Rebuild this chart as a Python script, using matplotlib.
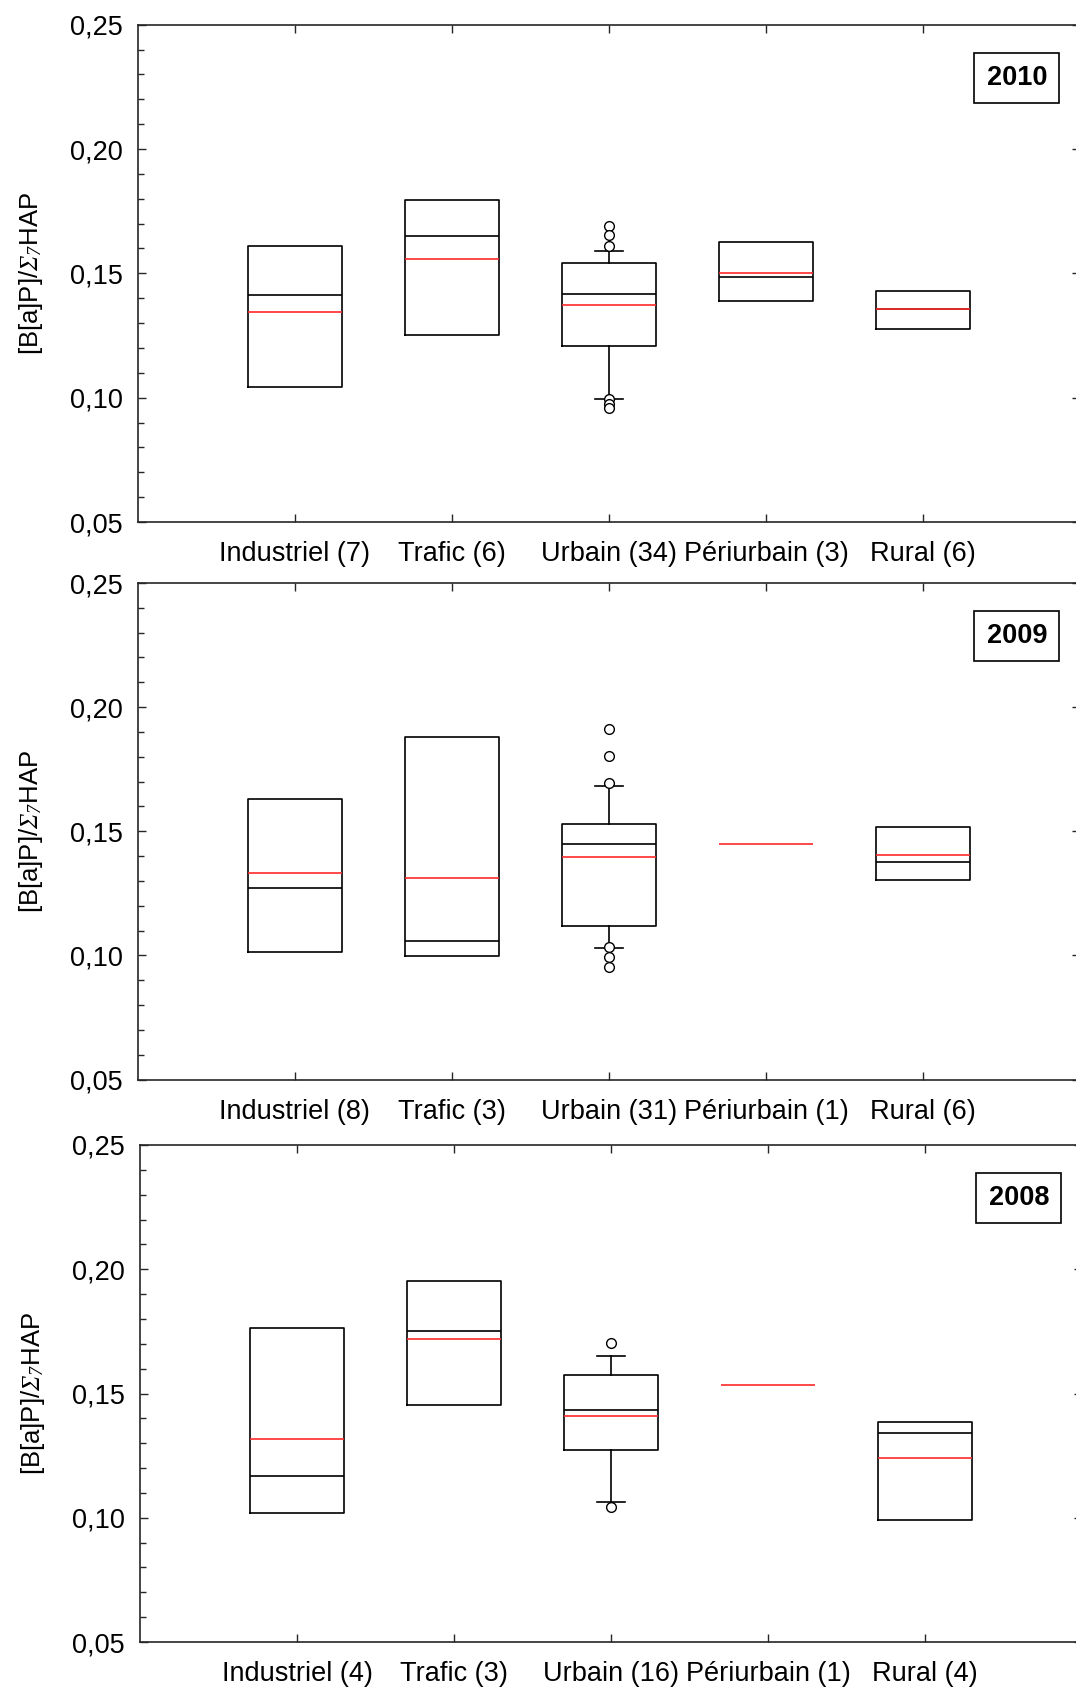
import matplotlib
matplotlib.use("Agg")
import matplotlib.pyplot as plt
from matplotlib.ticker import MultipleLocator, FuncFormatter

plt.rcParams["font.family"] = ["Liberation Sans", "DejaVu Sans"]
# Sigma and its subscript are set in a serif italic
plt.rcParams["mathtext.fontset"] = "custom"
plt.rcParams["mathtext.rm"] = "Liberation Serif:italic"
plt.rcParams["mathtext.it"] = "Liberation Serif:italic"

# ---- data -------------------------------------------------------------
categories = ["Industriel", "Trafic", "Urbain", "Périurbain", "Rural"]

counts_2010 = [7, 6, 34, 3, 6]
q1_2010 = [0.1043, 0.1253, 0.1206, 0.1387, 0.1275]
med_2010 = [0.1411, 0.1650, 0.1418, 0.1486, 0.1358]
mean_2010 = [0.1346, 0.1558, 0.1371, 0.1500, 0.1358]
q3_2010 = [0.1610, 0.1795, 0.1541, 0.1628, 0.1428]
whislo_2010 = [None, None, 0.0996, None, None]
whishi_2010 = [None, None, 0.1588, None, None]
fliers_2010 = [[], [], [0.1690, 0.1653, 0.1612, 0.0993, 0.0974, 0.0957], [], []]

counts_2009 = [8, 3, 31, 1, 6]
q1_2009 = [0.1013, 0.0999, 0.1117, 0.1448, 0.1305]
med_2009 = [0.1271, 0.1057, 0.1448, 0.1448, 0.1377]
mean_2009 = [0.1330, 0.1310, 0.1395, 0.1448, 0.1405]
q3_2009 = [0.1629, 0.1878, 0.1530, 0.1448, 0.1518]
whislo_2009 = [None, None, 0.1031, None, None]
whishi_2009 = [None, None, 0.1683, None, None]
fliers_2009 = [[], [], [0.1911, 0.1803, 0.1695, 0.1033, 0.0993, 0.0952], [], []]

counts_2008 = [4, 3, 16, 1, 4]
q1_2008 = [0.1018, 0.1452, 0.1274, 0.1535, 0.0992]
med_2008 = [0.1169, 0.1751, 0.1435, 0.1535, 0.1343]
mean_2008 = [0.1317, 0.1718, 0.1411, 0.1535, 0.1239]
q3_2008 = [0.1762, 0.1953, 0.1574, 0.1535, 0.1386]
whislo_2008 = [None, None, 0.1062, None, None]
whishi_2008 = [None, None, 0.1652, None, None]
fliers_2008 = [[], [], [0.1703, 0.1045], [], []]

years = ["2010", "2009", "2008"]
ylabel = r"[B[a]P]/$\Sigma_{7}$HAP"

# ---- figure -----------------------------------------------------------
W, H = 1076, 1688
fig = plt.figure(figsize=(W / 100, H / 100), dpi=100)

# axes rectangles in pixels: left, top, right, bottom
rects = [(137.7, 24.7, 1080, 522.0),
         (137.7, 583.0, 1080, 1079.5),
         (140.0, 1145.0, 1082, 1642.0)]

panels = [
    (counts_2010, q1_2010, med_2010, mean_2010, q3_2010, whislo_2010, whishi_2010, fliers_2010),
    (counts_2009, q1_2009, med_2009, mean_2009, q3_2009, whislo_2009, whishi_2009, fliers_2009),
    (counts_2008, q1_2008, med_2008, mean_2008, q3_2008, whislo_2008, whishi_2008, fliers_2008),
]

SPINE = "#262626"
LW = 1.2

for (l, t, r, b), year, (cnt, q1, med, mean, q3, wlo, whi, fl) in zip(rects, years, panels):
    ax = fig.add_axes([l / W, 1 - b / H, (r - l) / W, (b - t) / H])

    stats = []
    for i in range(len(categories)):
        stats.append(dict(
            q1=q1[i], med=med[i], mean=mean[i], q3=q3[i],
            whislo=wlo[i] if wlo[i] is not None else q1[i],
            whishi=whi[i] if whi[i] is not None else q3[i],
            fliers=fl[i],
        ))
    positions = list(range(1, len(categories) + 1))
    art = ax.bxp(stats, positions=positions, widths=0.6, capwidths=0.18,
                 showmeans=True, meanline=True,
                 boxprops=dict(color="black", linewidth=LW),
                 medianprops=dict(color="black", linewidth=LW),
                 whiskerprops=dict(color="black", linewidth=LW),
                 capprops=dict(color="black", linewidth=LW),
                 meanprops=dict(color="#ff2a2a", linewidth=LW, linestyle="-"),
                 flierprops=dict(marker="o", markerfacecolor="white",
                                 markeredgecolor="black", markersize=7,
                                 markeredgewidth=1.0, linestyle="none"))

    for i in range(len(categories)):
        if wlo[i] is None:
            for k in (2 * i, 2 * i + 1):
                art["whiskers"][k].set_visible(False)
                art["caps"][k].set_visible(False)
        if cnt[i] == 1:
            art["boxes"][i].set_visible(False)
            art["medians"][i].set_visible(False)

    ax.set_xlim(0, 6)
    ax.set_ylim(0.05, 0.25)
    ax.set_xticks(positions)
    ax.set_xticklabels([f"{c} ({n})" for c, n in zip(categories, cnt)])
    ax.yaxis.set_major_locator(MultipleLocator(0.05))
    ax.yaxis.set_minor_locator(MultipleLocator(0.01))
    ax.yaxis.set_major_formatter(FuncFormatter(lambda v, _: f"{v:.2f}".replace(".", ",")))

    ax.tick_params(axis="both", which="both", direction="in", color=SPINE,
                   top=True, right=True, labelsize=19.5, labelcolor="black")
    ax.tick_params(axis="both", which="major", length=6, width=1.0)
    ax.tick_params(axis="y", which="minor", length=4, width=1.0, right=False)
    ax.tick_params(axis="y", which="major", pad=11)
    ax.tick_params(axis="x", which="major", pad=14)

    for s in ax.spines.values():
        s.set_color(SPINE)
        s.set_linewidth(LW)

    ax.set_ylabel(ylabel, fontsize=18.5, labelpad=18)

    ax.text(0.933, 0.893, year, transform=ax.transAxes, ha="center", va="center",
            fontsize=19.5, fontweight="bold",
            bbox=dict(boxstyle="square,pad=0.45", facecolor="white",
                      edgecolor="black", linewidth=LW))

fig.savefig("out.png", dpi=100)
